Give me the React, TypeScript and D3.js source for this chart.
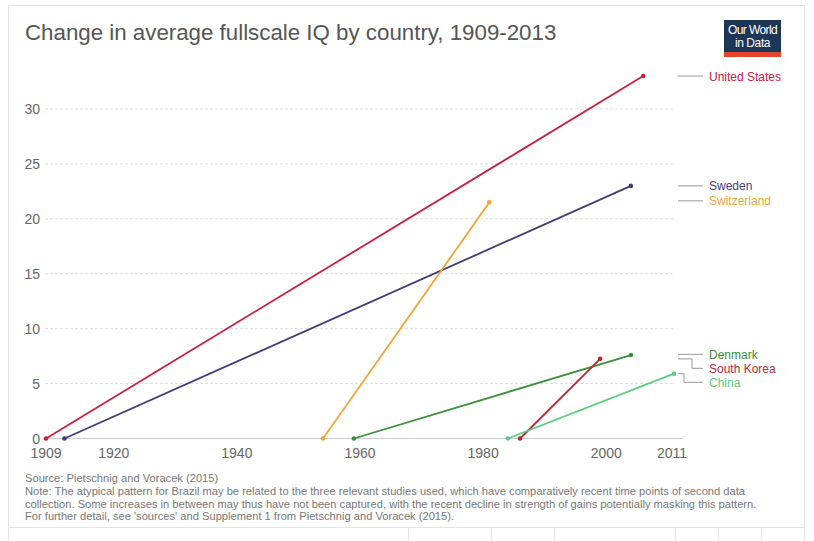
import React from "react";
import * as d3 from "d3";

const countries = ["United States", "Sweden", "Switzerland", "Denmark", "South Korea", "China"];
const startYears = [1909, 1912, 1954, 1959, 1986, 1984];
const endYears = [2006, 2004, 1981, 2004, 1999, 2011];
const endValues = [33.0, 23.0, 21.5, 7.6, 7.25, 5.9];
const colors = ["#c8203f", "#3f3d78", "#eea737", "#3b8e3b", "#b52a35", "#5ccc7e"];
const yTicks = [0, 5, 10, 15, 20, 25, 30];
const xTicks = [1909, 1920, 1940, 1960, 1980, 2000, 2011];
const noteLines = [
  "Note: The atypical pattern for Brazil may be related to the three relevant studies used, which have comparatively recent time points of second data",
  "collection. Some increases in between may thus have not been captured, with the recent decline in strength of gains potentially masking this pattern.",
  "For further detail, see 'sources' and Supplement 1 from Pietschnig and Voracek (2015).",
];
const tabDividers = [408, 491, 554, 675, 718, 761];

const FONT = "'Liberation Sans', Arial, sans-serif";

export default function App() {
  const x = d3.scaleLinear().domain([1909, 2011]).range([46, 674]);
  const y = d3.scaleLinear().domain([0, 30]).range([438.5, 109]);
  const line = d3.line<[number, number]>().x((d) => x(d[0])).y((d) => y(d[1]));

  // label placement: push down to avoid overlaps
  const labelY: number[] = [];
  const order = countries.map((_, i) => i).sort((a, b) => y(endValues[a]) - y(endValues[b]));
  let last = -Infinity;
  order.forEach((i) => {
    let ly = y(endValues[i]);
    if (ly < last + 14) ly = last + 14;
    labelY[i] = ly;
    last = ly;
  });
  const elbow = [0, 0, 0, 0, 692, 684];

  return (
    <svg
      width={814}
      height={541}
      style={{ position: "absolute", left: 0, top: 0, background: "#fff" }}
      fontFamily={FONT}
    >
      <rect x={8.5} y={5.5} width={796} height={560} fill="#fff" stroke="#e3e3e3" />
      <text x={25} y={40} fontSize={22.3} fill="#555">
        Change in average fullscale IQ by country, 1909-2013
      </text>
      {/* logo */}
      <g>
        <rect x={724} y={20} width={57} height={37} fill="#1d3556" />
        <rect x={724} y={52} width={57} height={5} fill="#e2452c" />
        <text x={752.5} y={34} fontSize={12} fill="#fff" textAnchor="middle" letterSpacing={-0.6}>
          Our World
        </text>
        <text x={752.5} y={47} fontSize={12} fill="#fff" textAnchor="middle" letterSpacing={-0.4}>
          in Data
        </text>
      </g>
      {/* grid */}
      {yTicks.map((t) => (
        <g key={t}>
          {t > 0 && (
            <line x1={45} x2={675} y1={y(t)} y2={y(t)} stroke="#ddd" strokeDasharray="3,2" />
          )}
          <text x={40} y={y(t) + 5} fontSize={14} fill="#666" textAnchor="end">
            {t}
          </text>
        </g>
      ))}
      <line x1={45} x2={683} y1={y(0)} y2={y(0)} stroke="#ccc" />
      {xTicks.map((t) => (
        <text key={t} x={x(t) - (t === 2011 ? 2 : 0)} y={458} fontSize={14} fill="#666" textAnchor="middle">
          {t}
        </text>
      ))}
      {/* series */}
      {countries.map((c, i) => {
        const pts: [number, number][] = [
          [startYears[i], 0],
          [endYears[i], endValues[i]],
        ];
        return (
          <g key={c}>
            <path d={line(pts) || ""} fill="none" stroke={colors[i]} strokeWidth={1.8} />
            {pts.map((p, j) => (
              <circle key={j} cx={x(p[0])} cy={y(p[1])} r={2.3} fill={colors[i]} />
            ))}
          </g>
        );
      })}
      {/* labels */}
      {countries.map((c, i) => {
        const y0 = y(endValues[i]);
        const y1 = labelY[i] - (i === 2 ? 1.5 : i >= 3 ? 0.7 : 0);
        const d =
          Math.abs(labelY[i] - y0) < 1
            ? `M678,${y1}H703`
            : `M678,${y0}H${elbow[i]}V${y1}H703`;
        return (
          <g key={c}>
            <path d={d} fill="none" stroke="#999" strokeWidth={1} />
            <text x={709} y={y1 + 4.5} fontSize={12} fill={colors[i]}>
              {c}
            </text>
          </g>
        );
      })}
      {/* footer */}
      <text x={25} y={482} fontSize={11.15} fill="#777">
        Source: Pietschnig and Voracek (2015)
      </text>
      {noteLines.map((l, i) => (
        <text key={i} x={25} y={495 + i * 12.5} fontSize={11.15} fill="#777">
          {l}
        </text>
      ))}
      <line x1={8} x2={805} y1={527.5} y2={527.5} stroke="#e3e3e3" />
      {tabDividers.map((d) => (
        <line key={d} x1={d + 0.5} x2={d + 0.5} y1={527} y2={541} stroke="#e3e3e3" />
      ))}
    </svg>
  );
}
